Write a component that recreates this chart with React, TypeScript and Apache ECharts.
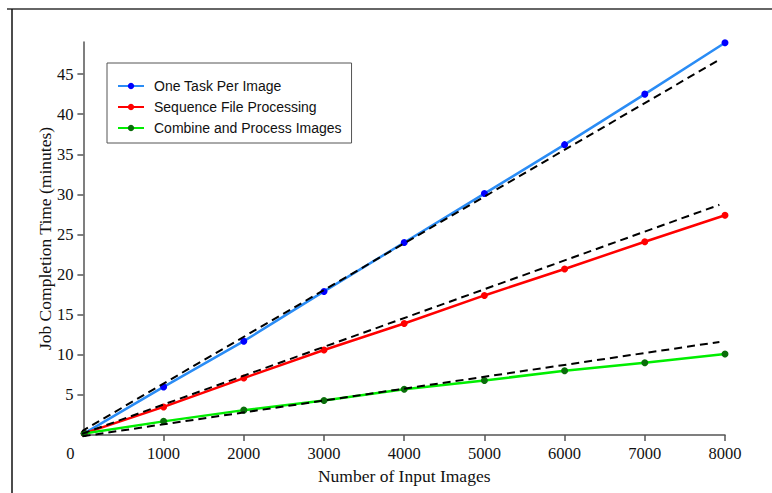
import React, { useEffect, useRef } from "react";
import * as echarts from "echarts";

const inputImages = [10, 1000, 2000, 3000, 4000, 5000, 6000, 7000, 8000];
const oneTaskPerImage = [0.2, 6.0, 11.7, 17.9, 24.0, 30.1, 36.2, 42.5, 48.9];
const sequenceFile = [0.2, 3.5, 7.1, 10.6, 13.9, 17.4, 20.7, 24.1, 27.4];
const combineImages = [0.2, 1.7, 3.1, 4.3, 5.7, 6.8, 8.0, 9.0, 10.1];

const fitX = [-170, 7930];
const fitOneTask = [-0.4, 46.8];
const fitSequence = [-0.4, 28.7];
const fitCombine = [-0.4, 11.6];

const xTicks = [1000, 2000, 3000, 4000, 5000, 6000, 7000, 8000];
const xLabels = [0, 1000, 2000, 3000, 4000, 5000, 6000, 7000, 8000];
const yTicks = [5, 10, 15, 20, 25, 30, 35, 40, 45];

const seriesNames = [
  "One Task Per Image",
  "Sequence File Processing",
  "Combine and Process Images",
];

const pairs = (xs: number[], ys: number[]) => xs.map((x, i) => [x, ys[i]]);

export default function App() {
  const ref = useRef<HTMLDivElement>(null);
  useEffect(() => {
    if (!ref.current) return;
    const chart = echarts.init(ref.current, undefined, { renderer: "svg" });
    const serif = "Liberation Serif";
    const dataSeries = (name: string, ys: number[], line: string, marker: string) => ({
      name,
      type: "line",
      data: pairs(inputImages, ys),
      symbol: "circle",
      symbolSize: 7,
      lineStyle: { color: line, width: 2.5 },
      itemStyle: { color: marker },
      z: 2,
    });
    const fitSeries = (ys: number[]) => ({
      name: "fit",
      type: "line",
      data: pairs(fitX, ys),
      symbol: "none",
      clip: false,
      lineStyle: { color: "#000", width: 2, type: [8, 5] },
      z: 3,
      silent: true,
    });
    chart.setOption({
      animation: false,
      backgroundColor: "#fff",
      grid: { left: 83.4, right: 47, top: 42, bottom: 58 },
      legend: {
        data: seriesNames,
        orient: "vertical",
        left: 107,
        top: 63,
        itemWidth: 26,
        itemHeight: 8,
        itemGap: 5,
        padding: [15, 10, 7, 10],
        borderColor: "#555",
        borderWidth: 1,
        backgroundColor: "#fff",
        textStyle: {
          fontFamily: "Liberation Sans",
          fontSize: 14,
          lineHeight: 16,
          color: "#111",
          padding: [0, 0, 0, 5],
        },
      },
      xAxis: {
        type: "value",
        min: 0,
        max: 8000,
        interval: 1000,
        name: "Number of Input Images",
        nameLocation: "middle",
        nameGap: 30,
        nameTextStyle: { fontFamily: serif, fontSize: 17.5, color: "#111" },
        axisLine: { show: true, lineStyle: { color: "#555", width: 1.5 } },
        axisTick: { show: true, customValues: xTicks, length: 6, lineStyle: { color: "#555", width: 1.5 } },
        axisLabel: {
          customValues: xLabels,
          margin: 10,
          fontFamily: serif,
          fontSize: 16.5,
          color: "#111",
          formatter: (v: number) => (v === 0 ? "{z|0}" : String(v)),
          rich: {
            z: { fontFamily: serif, fontSize: 16.5, color: "#111", padding: [0, 26, 6, 0] },
          },
        },
        splitLine: { show: false },
      },
      yAxis: {
        type: "value",
        min: 0,
        max: 49,
        interval: 5,
        name: "Job Completion Time (minutes)",
        nameLocation: "middle",
        nameGap: 29,
        nameMoveOverlap: false,
        nameTextStyle: { fontFamily: serif, fontSize: 17.5, color: "#111" },
        axisLine: { show: true, lineStyle: { color: "#555", width: 1.5 } },
        axisTick: { show: true, customValues: yTicks, length: 6, lineStyle: { color: "#555", width: 1.5 } },
        axisLabel: {
          customValues: yTicks,
          margin: 10,
          fontFamily: serif,
          fontSize: 16.5,
          color: "#111",
        },
        splitLine: { show: false },
      },
      graphic: [
        { type: "line", shape: { x1: 7, y1: 9, x2: 772, y2: 9 }, style: { stroke: "#666", lineWidth: 2 } },
        { type: "line", shape: { x1: 12, y1: 9, x2: 12, y2: 493 }, style: { stroke: "#111", lineWidth: 1.5 } },
      ],
      series: [
        dataSeries(seriesNames[0], oneTaskPerImage, "#2a8cf5", "#0000ff"),
        dataSeries(seriesNames[1], sequenceFile, "#ff0000", "#ff0000"),
        dataSeries(seriesNames[2], combineImages, "#00ee00", "#0a6e0a"),
        fitSeries(fitOneTask),
        fitSeries(fitSequence),
        fitSeries(fitCombine),
      ],
    });
    return () => chart.dispose();
  }, []);
  return <div ref={ref} style={{ width: 772, height: 493, position: "absolute", left: 0, top: 0 }} />;
}
